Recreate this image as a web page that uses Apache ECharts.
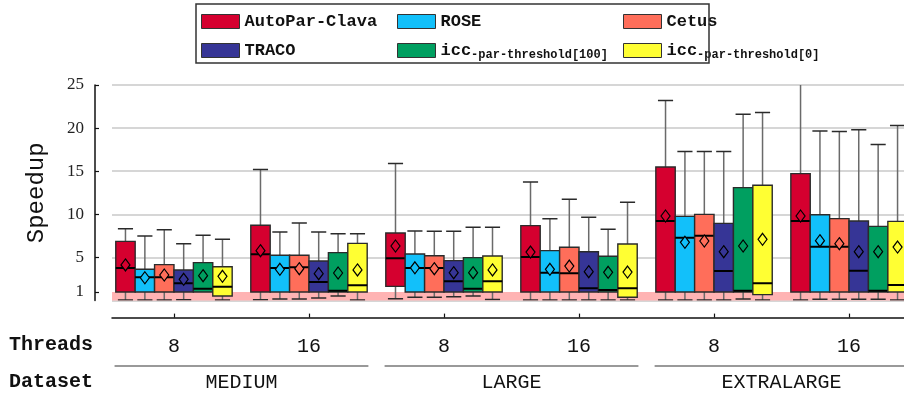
<!DOCTYPE html>
<html>
<head>
<meta charset="utf-8">
<script src="https://cdn.jsdelivr.net/npm/echarts@6/dist/echarts.min.js"></script>
<style>
html,body{margin:0;padding:0;background:#fff;}
#chart{width:904px;height:397px;}
</style>
</head>
<body>
<div id="chart"></div>
<script>
// ---- data: each entry = [lowerWhisker, q1, median, q3, upperWhisker, mean]
const threadLabels = ['8', '16', '8', '16', '8', '16'];
const datasetLabels = ['MEDIUM', 'LARGE', 'EXTRALARGE'];
const seriesNames = ['AutoPar-Clava', 'ROSE', 'Cetus', 'TRACO', 'icc-par-threshold[100]', 'icc-par-threshold[0]'];
const yTicks = [1, 5, 10, 15, 20, 25];

const autoParClava = [
  [0.07, 1.0, 3.78, 6.87, 8.34, 4.13],
  [0.10, 1.0, 5.37, 8.73, 15.2, 5.79],
  [0.22, 1.65, 4.9, 7.84, 15.9, 6.33],
  [0.07, 1.0, 5.05, 8.69, 13.75, 5.63],
  [0.07, 1.0, 9.23, 15.5, 23.2, 9.81],
  [0.07, 1.0, 9.23, 14.72, 27.0, 9.81]
];
const rose = [
  [0.07, 1.0, 2.7, 3.63, 7.49, 2.65],
  [0.20, 1.0, 3.78, 5.25, 7.95, 3.63],
  [0.38, 1.0, 3.78, 5.4, 8.07, 3.8],
  [0.07, 1.0, 3.24, 5.79, 9.5, 3.63],
  [0.07, 1.0, 7.3, 9.77, 17.3, 6.76],
  [0.15, 1.0, 6.25, 9.96, 19.66, 6.95]
];
const cetus = [
  [0.07, 1.0, 2.7, 4.17, 8.22, 2.97],
  [0.20, 1.0, 3.86, 5.25, 9.0, 3.7],
  [0.38, 1.0, 3.78, 5.2, 8.03, 3.7],
  [0.07, 1.0, 3.16, 6.18, 11.74, 4.01],
  [0.07, 1.0, 7.53, 10.0, 17.3, 6.91],
  [0.15, 1.0, 6.25, 9.5, 19.6, 6.6]
];
const traco = [
  [0.10, 1.0, 2.0, 3.55, 6.6, 2.47],
  [0.30, 1.0, 2.16, 4.59, 7.95, 3.12],
  [0.45, 1.0, 2.24, 4.63, 8.03, 3.24],
  [0.07, 1.0, 1.42, 5.67, 9.66, 3.35],
  [0.07, 1.0, 3.43, 8.96, 17.3, 5.67],
  [0.15, 1.0, 3.47, 9.23, 19.8, 5.67]
];
const iccThreshold100 = [
  [1.0, 1.0, 1.38, 4.4, 7.57, 2.89],
  [0.53, 1.0, 1.15, 5.56, 7.76, 3.2],
  [0.53, 1.0, 1.38, 4.98, 8.5, 3.24],
  [0.07, 1.0, 1.23, 5.14, 8.27, 3.28],
  [0.20, 1.0, 1.15, 13.1, 21.6, 6.33],
  [0.15, 1.0, 1.15, 8.61, 18.1, 5.67]
];
const iccThreshold0 = [
  [0.07, 0.53, 1.61, 3.93, 7.1, 2.81],
  [0.07, 1.0, 1.77, 6.64, 7.76, 3.55],
  [0.14, 1.0, 2.24, 5.17, 8.5, 3.55],
  [0.07, 0.38, 1.42, 6.56, 11.4, 3.31],
  [0.07, 0.69, 2.0, 13.37, 21.8, 7.1],
  [0.07, 1.0, 1.81, 9.19, 20.3, 6.21]
];
const allSeriesData = [autoParClava, rose, cetus, traco, iccThreshold100, iccThreshold0];
const colors = ['#D5002F', '#12C0FA', '#FF6E5A', '#363596', '#009F60', '#FFFF33'];

// ---- layout constants
const X_MIN = -0.459, X_MAX = 5.407;
const BOX_FRAC = 0.1437;
const MONO = "'Liberation Mono', 'DejaVu Sans Mono', monospace";
const SERIF = "'Liberation Serif', 'DejaVu Serif', serif";

function makeRenderItem(si) {
  return function (params, api) {
    const x = api.value(0);
    const lo = api.value(1), q1 = api.value(2), med = api.value(3),
          q3 = api.value(4), hi = api.value(5), mean = api.value(6);
    const unit = api.size([1, 0])[0];
    const bw = unit * BOX_FRAC;
    const cx = api.coord([x, 0])[0] + (si - 2.5) * bw;
    const y = v => api.coord([x, v])[1];
    const yLo = y(lo), yQ1 = y(q1), yMed = y(med), yQ3 = y(q3), yHi = y(hi), yMean = y(mean);
    const capW = bw * 0.78;
    const whisker = { stroke: '#6a6a6a', lineWidth: 1.5 };
    const cap = { stroke: '#2a2a2a', lineWidth: 1.5 };
    const children = [
      { type: 'line', shape: { x1: cx, y1: yQ3, x2: cx, y2: yHi }, style: whisker },
      { type: 'line', shape: { x1: cx - capW / 2, y1: yHi, x2: cx + capW / 2, y2: yHi }, style: cap }
    ];
    if (lo < q1) {
      children.push({ type: 'line', shape: { x1: cx, y1: yQ1, x2: cx, y2: yLo }, style: whisker });
      children.push({ type: 'line', shape: { x1: cx - capW / 2, y1: yLo, x2: cx + capW / 2, y2: yLo }, style: cap });
    }
    children.push({
      type: 'rect',
      shape: { x: cx - bw / 2, y: yQ3, width: bw, height: yQ1 - yQ3 },
      style: { fill: colors[si], stroke: '#2b2b2b', lineWidth: 1.4 }
    });
    children.push({ type: 'line', shape: { x1: cx - bw / 2, y1: yMed, x2: cx + bw / 2, y2: yMed }, style: { stroke: '#000', lineWidth: 2 } });
    const dw = 4.5, dh = 6;
    children.push({
      type: 'polygon',
      shape: { points: [[cx, yMean - dh], [cx + dw, yMean], [cx, yMean + dh], [cx - dw, yMean]] },
      style: { fill: colors[si], stroke: '#000', lineWidth: 1.2 }
    });
    return { type: 'group', children: children };
  };
}

const chart = echarts.init(document.getElementById('chart'), null, { renderer: 'canvas' });

const series = allSeriesData.map((arr, si) => ({
  name: seriesNames[si],
  type: 'custom',
  xAxisIndex: 0,
  yAxisIndex: 0,
  clip: true,
  z: 3,
  itemStyle: { color: colors[si] },
  encode: { x: 0, y: [1, 2, 3, 4, 5, 6] },
  renderItem: makeRenderItem(si),
  data: arr.map((d, gi) => [gi].concat(d))
}));

series.push({
  name: 'band',
  type: 'line',
  xAxisIndex: 0,
  yAxisIndex: 0,
  data: [],
  z: 1,
  silent: true,
  markArea: {
    silent: true,
    itemStyle: { color: '#FFB3B3' },
    data: [[{ coord: [X_MIN, 0] }, { coord: [X_MAX, 1] }]]
  }
});

const legendText = {
  fontFamily: MONO, fontWeight: 'bold', fontSize: 17, color: '#111',
  rich: {
    m: { fontFamily: MONO, fontWeight: 'bold', fontSize: 17, color: '#111' },
    s: { fontFamily: MONO, fontWeight: 'bold', fontSize: 12, color: '#111', padding: [9, 0, 0, 0] }
  }
};
function legendFormatter(name) {
  if (name.indexOf('icc') === 0) return '{m|icc}{s|' + name.slice(3) + '}';
  return name;
}
function makeLegend(left, names) {
  return {
    left: left, top: 13, orient: 'vertical', itemGap: 12, padding: 0,
    itemWidth: 38, itemHeight: 14, icon: 'rect',
    itemStyle: { borderColor: '#333', borderWidth: 1 },
    selectedMode: false,
    data: names,
    textStyle: legendText,
    formatter: legendFormatter
  };
}

const option = {
  animation: false,
  backgroundColor: '#fff',
  grid: { left: 112, right: 0, top: 85, bottom: 96.4, containLabel: false },
  legend: [
    makeLegend(201, [seriesNames[0], seriesNames[3]]),
    makeLegend(397, [seriesNames[1], seriesNames[4]]),
    makeLegend(623, [seriesNames[2], seriesNames[5]])
  ],
  xAxis: [
    {
      type: 'value', min: X_MIN, max: X_MAX, position: 'bottom', offset: 17,
      axisLine: { show: true, onZero: false, lineStyle: { color: '#111', width: 1.5 } },
      axisTick: { show: true, inside: true, length: 4, customValues: [0, 1, 2, 3, 4, 5], lineStyle: { color: '#111', width: 1.2 } },
      axisLabel: {
        customValues: [0, 1, 2, 3, 4, 5],
        formatter: v => threadLabels[Math.round(v)],
        fontFamily: MONO, fontSize: 20, color: '#111', margin: 19
      },
      splitLine: { show: false }
    },
    {
      type: 'value', min: X_MIN, max: X_MAX, position: 'bottom', offset: 17,
      axisLine: { show: false, onZero: false, lineStyle: { color: 'rgba(0,0,0,0)' } },
      axisTick: { show: false },
      axisLabel: {
        customValues: [0.5, 2.5, 4.5],
        formatter: v => datasetLabels[Math.round((v - 0.5) / 2)],
        fontFamily: MONO, fontSize: 20, color: '#111', margin: 55
      },
      splitLine: { show: false }
    }
  ],
  yAxis: [
    {
      type: 'value', min: 0, max: 25, interval: 5, position: 'left',
      axisLine: { show: false, onZero: false, lineStyle: { color: 'rgba(0,0,0,0)' } },
      axisTick: { show: false }, axisLabel: { show: false },
      splitLine: { show: true, lineStyle: { color: '#c8c8c8', width: 1.5 } }
    },
    {
      type: 'value', min: 0, max: 25, position: 'left', offset: 17,
      name: 'Speedup', nameLocation: 'middle', nameRotate: 90, nameGap: 46,
      nameTextStyle: { fontFamily: MONO, fontSize: 24, color: '#111' },
      axisLine: { show: true, onZero: false, lineStyle: { color: '#111', width: 1.5 } },
      axisTick: { show: true, length: 4, inside: true, customValues: yTicks, lineStyle: { color: '#111', width: 1.2 } },
      axisLabel: { customValues: yTicks, fontFamily: SERIF, fontSize: 17, color: '#222', margin: 11 },
      splitLine: { show: false }
    }
  ],
  series: series
};
chart.setOption(option);

// decorations: legend frame, row titles, dataset underlines
const px = v => chart.convertToPixel({ xAxisIndex: 0 }, v);
const half = 0.94;
const graphics = [
  { type: 'rect', shape: { x: 196, y: 4, width: 513, height: 59 }, style: { fill: 'none', stroke: '#333', lineWidth: 1.5 }, z: 10 },
  { type: 'rect', shape: { x: 100, y: 302, width: 15, height: 13 }, style: { fill: '#fff' }, z: 100, silent: true },
  { type: 'text', left: 9, top: 335, style: { text: 'Threads', fontFamily: MONO, fontWeight: 'bold', fontSize: 20, fill: '#111' } },
  { type: 'text', left: 9, top: 372, style: { text: 'Dataset', fontFamily: MONO, fontWeight: 'bold', fontSize: 20, fill: '#111' } }
];
[0.5, 2.5, 4.5].forEach(c => {
  graphics.push({ type: 'line', shape: { x1: px(c - half), y1: 366, x2: px(c + half), y2: 366 }, style: { stroke: '#777', lineWidth: 1.5 } });
});
chart.setOption({ graphic: graphics });
</script>
</body>
</html>
